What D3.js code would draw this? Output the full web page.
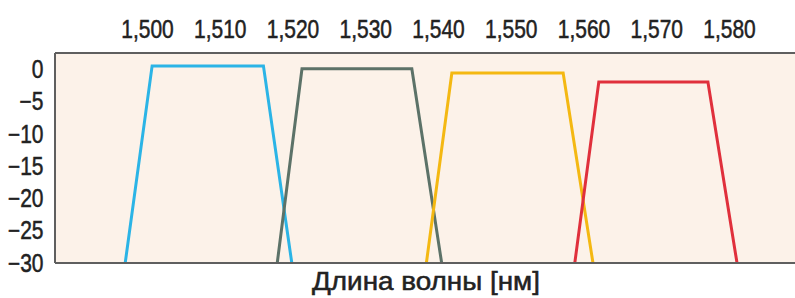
<!DOCTYPE html>
<html>
<head>
<meta charset="utf-8">
<script src="https://cdn.jsdelivr.net/npm/d3@7"></script>
<style>
  body { margin: 0; background: #fff; }
  text { font-family: "Liberation Sans", Arial, sans-serif; }
</style>
</head>
<body>
<div id="chart"></div>
<script>
// channel data: wavelength (nm) and power (dB) for each filter passband
const xTicks = [1500, 1510, 1520, 1530, 1540, 1550, 1560, 1570, 1580];
const yTicks = [0, -5, -10, -15, -20, -25, -30];

const blueNm = [1497.0, 1500.7, 1516.0, 1519.9];
const blueDb = [-30, 0.6, 0.6, -30];
const greenNm = [1517.9, 1521.3, 1536.4, 1540.5];
const greenDb = [-30, 0.15, 0.15, -30];
const yellowNm = [1538.4, 1541.9, 1557.2, 1561.3];
const yellowDb = [-30, -0.5, -0.5, -30];
const redNm = [1558.8, 1562.1, 1577.1, 1581.1];
const redDb = [-30, -1.9, -1.9, -30];

const width = 795;
const height = 298;
const margin = {left: 55, right: 0, top: 53, bottom: 35};
const squeeze = 0.84; // narrow-font look

const svg = d3.select("#chart")
  .append("svg")
  .attr("width", width)
  .attr("height", height);

// scales
let x = d3.scaleLinear()
  .domain([1487.35, 1589.07])
  .range([margin.left, width - margin.right]);

let y = d3.scaleLinear()
  .domain([-30, 2.6])
  .range([height - margin.bottom, margin.top]);

// plot background
svg.append("rect")
  .attr("x", margin.left)
  .attr("y", margin.top)
  .attr("width", width - margin.left - margin.right)
  .attr("height", height - margin.top - margin.bottom)
  .attr("fill", "#fcf2e9");

// traces
const series = [
  {nm: blueNm, db: blueDb, color: "#2bb4e6"},
  {nm: greenNm, db: greenDb, color: "#5c7268"},
  {nm: yellowNm, db: yellowDb, color: "#f4b812"},
  {nm: redNm, db: redDb, color: "#e0303c"}
];

const line = d3.line()
  .x(d => x(d[0]))
  .y(d => y(d[1]));

series.forEach(s => {
  svg.append("path")
    .datum(d3.zip(s.nm, s.db))
    .attr("d", line)
    .attr("fill", "none")
    .attr("stroke", s.color)
    .attr("stroke-width", 3)
    .attr("stroke-linejoin", "miter");
});

// frame lines (top, left, bottom)
const frame = svg.append("g")
  .attr("stroke", "#5f5f5f")
  .attr("stroke-width", 2);
frame.append("line")
  .attr("x1", margin.left).attr("x2", width)
  .attr("y1", margin.top).attr("y2", margin.top);
frame.append("line")
  .attr("x1", margin.left).attr("x2", margin.left)
  .attr("y1", margin.top).attr("y2", height - margin.bottom);
frame.append("line")
  .attr("x1", margin.left).attr("x2", width)
  .attr("y1", height - margin.bottom).attr("y2", height - margin.bottom);

// top axis (wavelength)
svg.append("g")
  .attr("transform", `translate(0, ${margin.top})`)
  .call(d3.axisTop(x).tickValues(xTicks).tickFormat(d3.format(",")).tickSize(0).tickPadding(15))
  .call(g => g.select(".domain").remove())
  .selectAll("text")
  .attr("font-size", "25px")
  .attr("fill", "#222")
  .attr("stroke", "#222")
  .attr("stroke-width", 0.5)
  .attr("transform", `scale(${squeeze},1)`);

// left axis (dB)
svg.append("g")
  .attr("transform", `translate(${margin.left}, 0)`)
  .call(d3.axisLeft(y).tickValues(yTicks).tickSize(0))
  .call(g => g.select(".domain").remove())
  .selectAll("text")
  .attr("x", -11.5 / squeeze)
  .attr("font-size", "25px")
  .attr("fill", "#222")
  .attr("stroke", "#222")
  .attr("stroke-width", 0.5)
  .attr("transform", `scale(${squeeze},1)`);

// axis title
svg.append("text")
  .attr("x", 426)
  .attr("y", 290)
  .attr("text-anchor", "middle")
  .attr("font-size", "25px")
  .attr("fill", "#222")
  .attr("stroke", "#222")
  .attr("stroke-width", 0.5)
  .attr("textLength", 228)
  .attr("lengthAdjust", "spacingAndGlyphs")
  .text("Длина волны [нм]");
</script>
</body>
</html>
